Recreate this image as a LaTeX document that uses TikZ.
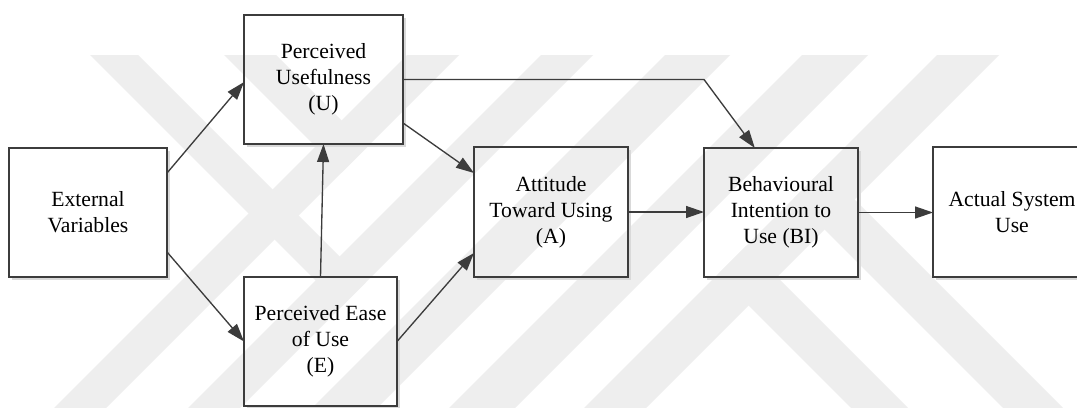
\documentclass[tikz,border=0pt]{standalone}
\usepackage{fontspec}
\setmainfont{Liberation Serif}
\usetikzlibrary{arrows.meta,calc}
\definecolor{edgegray}{HTML}{3C3C3C}
\definecolor{markgray}{HTML}{EEEEEE}
\definecolor{shadegray}{HTML}{D9D9D9}

\begin{document}
\begin{tikzpicture}[x=0.75pt,y=-0.75pt,
  box/.style={draw=edgegray, line width=1pt, inner sep=0pt, outer sep=0pt,
    align=center, font=\fontsize{16.25pt}{19.5pt}\selectfont,
    minimum height=96.75pt},
  link/.style={draw=edgegray, line width=1pt,
    -{Triangle[length=13.5pt,width=9pt]}},
  band/.style={fill=markgray, draw=none},
  shade/.style={draw=shadegray, line width=1.2pt}]
\useasboundingbox (0,0) rectangle (1077,407);
\clip (0,0) rectangle (1077,407);
\fill[white] (0,0) rectangle (1077,407);

% background emblem: rising stripes
\foreach \a/\b in {462/514, 596/648, 720/785, 857/923, 992/1054}
  \fill[band] (\a-55,55) -- (\b-55,55) -- (\b-420,420) -- (\a-420,420) -- cycle;
% background emblem: falling stripes
\fill[band] (90,55) -- (138,55) -- (365.5,282.5) -- (341.5,306.5) -- cycle;
\fill[band] (224,55) -- (276,55) -- (367.5,146.5) -- (341.5,172.5) -- cycle;
\fill[band] (717.5,274.5) -- (746,246) -- (920,420) -- (863,420) -- cycle;
\fill[band] (793.5,198.5) -- (823.5,168.5) -- (1075,420) -- (1015,420) -- cycle;

% constructs
\node[box, minimum width=118.5pt] (ext) at (88,212.5) {External\\Variables};
\node[box, minimum width=119.25pt] (pu) at (323.5,79.5) {Perceived\\Usefulness\\(U)};
\node[box, minimum width=114.75pt] (pe) at (320.5,341.5) {Perceived Ease\\of Use\\(E)};
\node[box, minimum width=115.5pt, minimum height=97.5pt] (att) at (551,212) {Attitude\\Toward Using\\(A)};
\node[box, minimum width=115.5pt] (bi) at (781,212.5) {Behavioural\\Intention to\\Use (BI)};
\node[box, minimum width=118.5pt, minimum height=97.5pt] (asu) at (1012,212) {Actual System\\Use};

% soft shadows along the lower and right edges
\foreach \n in {ext,pu,pe,att,bi,asu}
  \draw[shade] ([shift={(2.5pt,-1.6pt)}]\n.south west) -- ([shift={(1.6pt,-1.6pt)}]\n.south east)
    -- ([shift={(1.6pt,-2.5pt)}]\n.north east);

% relations
\draw[link] ($(ext.north east)!0.194!(ext.south east)$) -- ($(pu.north west)!0.52!(pu.south west)$);
\draw[link] ($(ext.north east)!0.806!(ext.south east)$) -- (pe.west);
\draw[link] (pe.north) -- (pu.south);
\draw[link] ($(pu.north east)!0.837!(pu.south east)$) -- ($(att.north west)!0.2!(att.south west)$);
\draw[link] (pe.east) -- ($(att.north west)!0.815!(att.south west)$);
\draw[link] (pu.east) -- (pu.east -| bi.west) -- ($(bi.north west)!0.33!(bi.north east)$);
\draw[link] (att.east) -- (att.east -| bi.west);
\draw[link] (bi.east) -- (bi.east -| asu.west);
\end{tikzpicture}
\end{document}
